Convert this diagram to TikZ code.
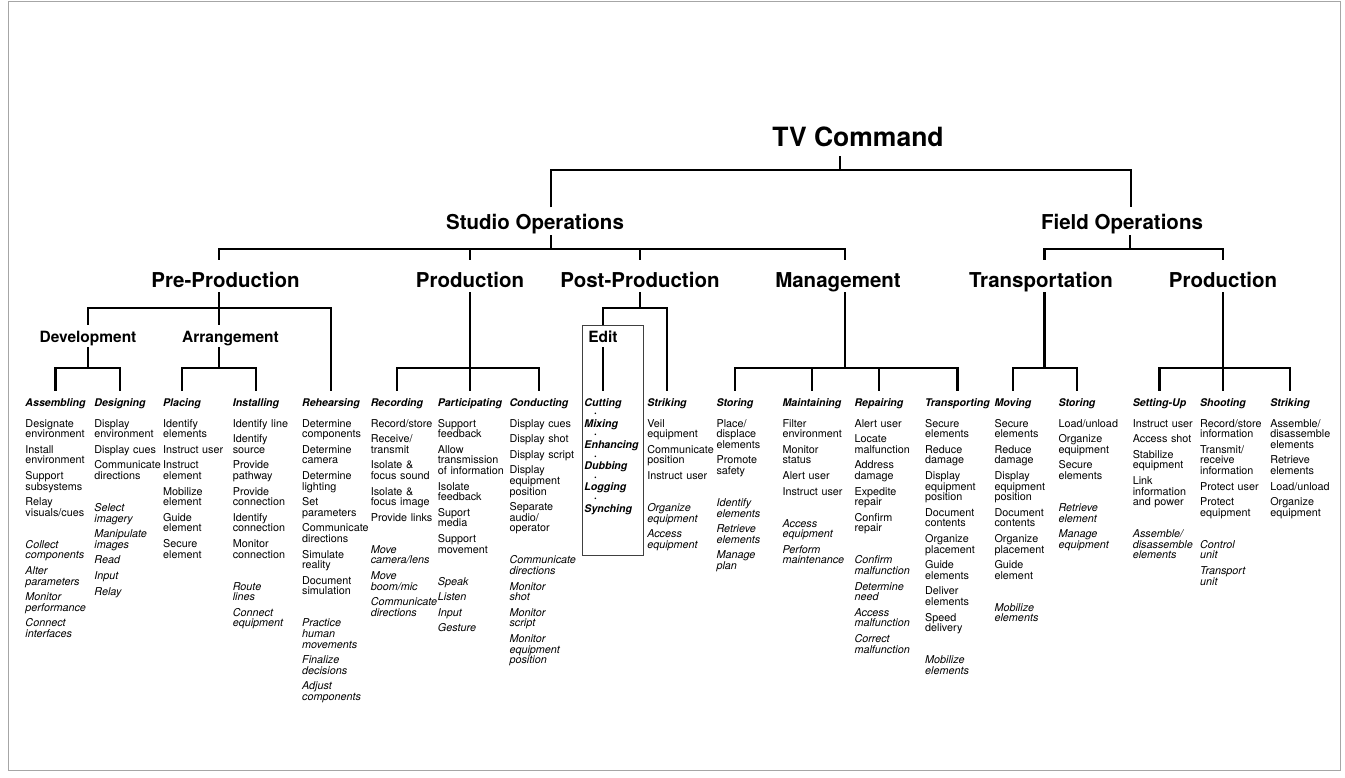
\documentclass[tikz,border=0pt]{standalone}
\usepackage{fontspec}
\setmainfont{TeX Gyre Heros}
\newcommand\editdot{\hspace*{9.5pt}\textperiodcentered}
\tikzset{
  rootbox/.style={font=\bfseries\fontsize{26.5}{30}\selectfont,
    inner sep=0pt, anchor=base, text height=19pt, text depth=10pt},
  opsbox/.style={font=\bfseries\fontsize{20.5}{24}\selectfont,
    inner sep=0pt, anchor=base, text height=21.5pt, text depth=6pt},
  phasebox/.style={font=\bfseries\fontsize{20.5}{24}\selectfont,
    inner sep=0pt, anchor=base, text height=27pt, text depth=5pt},
  groupbox/.style={font=\bfseries\fontsize{15.5}{18}\selectfont,
    inner sep=0pt, anchor=base, text height=17pt, text depth=5pt},
  taskhead/.style={font=\bfseries\itshape\fontsize{10.6}{12}\selectfont,
    inner sep=0pt, anchor=base, text height=15pt, text depth=3pt},
  tasklist/.style={font=\fontsize{10.8}{10.6}\selectfont,
    inner sep=0pt, anchor=base west, align=left, text width=90pt},
  editlist/.style={tasklist, font=\bfseries\itshape\fontsize{10.6}{10.6}\selectfont},
  branch/.style={line width=2.2pt},
  editframe/.style={draw=black!75, line width=1pt, inner sep=0pt},
  pageframe/.style={draw=black!35, line width=1pt},
}

\begin{document}
\begin{tikzpicture}[x=1pt, y=-1pt]
    \useasboundingbox (0,0) rectangle (1345,777);
    \draw[pageframe] (8,1) rectangle (1340,770);

    % top levels
    \node[rootbox] (tv) at (858,146) {TV Command};
    \node[opsbox] (studio) at (535,229) {Studio Operations};
    \node[opsbox] (field) at (1122,229) {Field Operations};
    \node[phasebox] (pre) at (225.5,287) {Pre-Production};
    \node[phasebox] (prod) at (470,287) {Production};
    \node[phasebox] (post) at (640,287) {Post-Production};
    \node[phasebox] (mgmt) at (838,287) {Management};
    \node[phasebox] (transp) at (1041,287) {Transportation};
    \node[phasebox] (fprod) at (1223,287) {Production};
    \node[groupbox] (dev) at (88,342) {Development};
    \node[groupbox] (arr) at (230.5,342) {Arrangement};
    \node[editframe, anchor=north west, minimum width=61pt, minimum height=230pt] (editbox) at (582,325) {};
    \node[groupbox] (edit) at (603,342) {Edit};

    % task heads
    \node[taskhead] (assembling) at (55.5,406) {Assembling};
    \node[taskhead] (designing) at (120,406) {Designing};
    \node[taskhead] (placing) at (182,406) {Placing};
    \node[taskhead] (installing) at (256,406) {Installing};
    \node[taskhead] (rehearsing) at (331,406) {Rehearsing};
    \node[taskhead] (recording) at (397,406) {Recording};
    \node[taskhead] (participating) at (470,406) {Participating};
    \node[taskhead] (conducting) at (539,406) {Conducting};
    \node[taskhead] (cutting) at (603,406) {Cutting};
    \node[taskhead] (pstriking) at (667,406) {Striking};
    \node[taskhead] (mstoring) at (735,406) {Storing};
    \node[taskhead] (maintaining) at (812,406) {Maintaining};
    \node[taskhead] (repairing) at (879,406) {Repairing};
    \node[taskhead] (transporting) at (957.5,406) {Transporting};
    \node[taskhead] (moving) at (1013,406) {Moving};
    \node[taskhead] (tstoring) at (1077,406) {Storing};
    \node[taskhead] (settingup) at (1159.5,406) {Setting-Up};
    \node[taskhead] (shooting) at (1223,406) {Shooting};
    \node[taskhead] (fstriking) at (1290,406) {Striking};

    % tree
    \coordinate (tvbar) at (840,170);
    \draw[branch] (tv.south -| tvbar) -- (tvbar);
    \draw[branch] ([xshift=16pt]studio.north) |- (tvbar) -| ([xshift=9pt]field.north);

    \coordinate (studiobar) at (551,249);
    \draw[branch] ([xshift=16pt]studio.south) -- (studiobar);
    \draw[branch] ([xshift=-6.5pt]pre.north) |- (studiobar) -| ([xshift=7pt]mgmt.north);
    \draw[branch] (prod.north) -- (prod.north |- studiobar);
    \draw[branch] (post.north) -- (post.north |- studiobar);

    \coordinate (fieldbar) at (1130,249);
    \draw[branch] ([xshift=8pt]field.south) -- (fieldbar);
    \draw[branch] ([xshift=3.5pt]transp.north) |- (fieldbar) -| (fprod.north);

    \coordinate (prebar) at (219,308);
    \draw[branch] ([xshift=-6.5pt]pre.south) -- ([xshift=-11.5pt]arr.north);
    \draw[branch] (dev.north) |- (prebar) -| (rehearsing.north);

    \coordinate (devbar) at (88,368);
    \draw[branch] (dev.south) -- (devbar);
    \draw[branch] (assembling.north) |- (devbar) -| (designing.north);

    \coordinate (arrbar) at (219,368);
    \draw[branch] ([xshift=-11.5pt]arr.south) -- (arrbar);
    \draw[branch] (placing.north) |- (arrbar) -| (installing.north);

    \coordinate (prodbar) at (470,368);
    \draw[branch] (prod.south) -- (participating.north);
    \draw[branch] (recording.north) |- (prodbar) -| (conducting.north);

    \coordinate (postbar) at (640,308);
    \draw[branch] (post.south) -- (postbar);
    \draw[branch] (editbox.north -| edit) |- (postbar) -| (pstriking.north);
    \draw[branch] (edit.south) -- (cutting.north);

    \coordinate (mgmtbar) at (845,368);
    \draw[branch] ([xshift=7pt]mgmt.south) -- (mgmtbar);
    \draw[branch] (mstoring.north) |- (mgmtbar) -| (transporting.north);
    \draw[branch] (maintaining.north) -- (maintaining.north |- mgmtbar);
    \draw[branch] (repairing.north) -- (repairing.north |- mgmtbar);

    \coordinate (transpbar) at (1044.5,368);
    \draw[branch] ([xshift=3.5pt]transp.south) -- (transpbar);
    \draw[branch] (moving.north) |- (transpbar) -| (tstoring.north);

    \coordinate (fprodbar) at (1223,368);
    \draw[branch] (fprod.south) -- (shooting.north);
    \draw[branch] (settingup.north) |- (fprodbar) -| (fstriking.north);

    % task lists
    \node[tasklist] (assembling-list) at ([yshift=-21pt]assembling.base west)
      {Designate\\environment\\[5pt]Install\\environment\\[5pt]Support\\subsystems\\[5pt]Relay\\visuals/cues\\[21.5pt]
       \itshape Collect\\components\\[5pt]Alter\\parameters\\[5pt]Monitor\\performance\\[5pt]Connect\\interfaces};
    \node[tasklist] (designing-list) at ([yshift=-21pt]designing.base west)
      {Display\\environment\\[5pt]Display cues\\[5pt]Communicate\\directions\\[21.5pt]
       \itshape Select\\imagery\\[5pt]Manipulate\\images\\[5pt]Read\\[5pt]Input\\[5pt]Relay};
    \node[tasklist] (placing-list) at ([yshift=-21pt]placing.base west)
      {Identify\\elements\\[5pt]Instruct user\\[5pt]Instruct\\element\\[5pt]Mobilize\\element\\[5pt]Guide\\element\\[5pt]Secure\\element};
    \node[tasklist] (installing-list) at ([yshift=-21pt]installing.base west)
      {Identify line\\[5pt]Identify\\source\\[5pt]Provide\\pathway\\[5pt]Provide\\connection\\[5pt]Identify\\connection\\[5pt]Monitor\\connection\\[21.5pt]
       \itshape Route\\lines\\[5pt]Connect\\equipment};
    \node[tasklist] (rehearsing-list) at ([yshift=-21pt]rehearsing.base west)
      {Determine\\components\\[5pt]Determine\\camera\\[5pt]Determine\\lighting\\[5pt]Set\\parameters\\[5pt]Communicate\\directions\\[5pt]Simulate\\reality\\[5pt]Document\\simulation\\[21.5pt]
       \itshape Practice\\human\\movements\\[5pt]Finalize\\decisions\\[5pt]Adjust\\components};
    \node[tasklist] (recording-list) at ([yshift=-21pt]recording.base west)
      {Record/store\\[5pt]Receive/\\transmit\\[5pt]Isolate \&\\focus sound\\[5pt]Isolate \&\\focus image\\[5pt]Provide links\\[21.5pt]
       \itshape Move\\camera/lens\\[5pt]Move\\boom/mic\\[5pt]Communicate\\directions};
    \node[tasklist] (participating-list) at ([yshift=-21pt]participating.base west)
      {Support\\feedback\\[5pt]Allow\\transmission\\of information\\[5pt]Isolate\\feedback\\[5pt]Suport\\media\\[5pt]Support\\movement\\[21.5pt]
       \itshape Speak\\[5pt]Listen\\[5pt]Input\\[5pt]Gesture};
    \node[tasklist] (conducting-list) at ([yshift=-21pt]conducting.base west)
      {Display cues\\[5pt]Display shot\\[5pt]Display script\\[5pt]Display\\equipment\\position\\[5pt]Separate\\audio/\\operator\\[21.5pt]
       \itshape Communicate\\directions\\[5pt]Monitor\\shot\\[5pt]Monitor\\script\\[5pt]Monitor\\equipment\\position};
    \node[editlist] (cutting-list) at ([yshift=-10.6pt]cutting.base west)
      {\editdot\\Mixing\\\editdot\\Enhancing\\\editdot\\Dubbing\\\editdot\\Logging\\\editdot\\Synching};
    \node[tasklist] (pstriking-list) at ([yshift=-21pt]pstriking.base west)
      {Veil\\equipment\\[5pt]Communicate\\position\\[5pt]Instruct user\\[21.5pt]
       \itshape Organize\\equipment\\[5pt]Access\\equipment};
    \node[tasklist] (mstoring-list) at ([yshift=-21pt]mstoring.base west)
      {Place/\\displace\\elements\\[5pt]Promote\\safety\\[21.5pt]
       \itshape Identify\\elements\\[5pt]Retrieve\\elements\\[5pt]Manage\\plan};
    \node[tasklist] (maintaining-list) at ([yshift=-21pt]maintaining.base west)
      {Filter\\environment\\[5pt]Monitor\\status\\[5pt]Alert user\\[5pt]Instruct user\\[21.5pt]
       \itshape Access\\equipment\\[5pt]Perform\\maintenance};
    \node[tasklist] (repairing-list) at ([yshift=-21pt]repairing.base west)
      {Alert user\\[5pt]Locate\\malfunction\\[5pt]Address\\damage\\[5pt]Expedite\\repair\\[5pt]Confirm\\repair\\[21.5pt]
       \itshape Confirm\\malfunction\\[5pt]Determine\\need\\[5pt]Access\\malfunction\\[5pt]Correct\\malfunction};
    \node[tasklist] (transporting-list) at ([yshift=-21pt]transporting.base west)
      {Secure\\elements\\[5pt]Reduce\\damage\\[5pt]Display\\equipment\\position\\[5pt]Document\\contents\\[5pt]Organize\\placement\\[5pt]Guide\\elements\\[5pt]Deliver\\elements\\[5pt]Speed\\delivery\\[21.5pt]
       \itshape Mobilize\\elements};
    \node[tasklist] (moving-list) at ([yshift=-21pt]moving.base west)
      {Secure\\elements\\[5pt]Reduce\\damage\\[5pt]Display\\equipment\\position\\[5pt]Document\\contents\\[5pt]Organize\\placement\\[5pt]Guide\\element\\[21.5pt]
       \itshape Mobilize\\elements};
    \node[tasklist] (tstoring-list) at ([yshift=-21pt]tstoring.base west)
      {Load/unload\\[5pt]Organize\\equipment\\[5pt]Secure\\elements\\[21.5pt]
       \itshape Retrieve\\element\\[5pt]Manage\\equipment};
    \node[tasklist] (settingup-list) at ([yshift=-21pt]settingup.base west)
      {Instruct user\\[5pt]Access shot\\[5pt]Stabilize\\equipment\\[5pt]Link\\information\\and power\\[21.5pt]
       \itshape Assemble/\\disassemble\\elements};
    \node[tasklist] (shooting-list) at ([yshift=-21pt]shooting.base west)
      {Record/store\\information\\[5pt]Transmit/\\receive\\information\\[5pt]Protect user\\[5pt]Protect\\equipment\\[21.5pt]
       \itshape Control\\unit\\[5pt]Transport\\unit};
    \node[tasklist] (fstriking-list) at ([yshift=-21pt]fstriking.base west)
      {Assemble/\\disassemble\\elements\\[5pt]Retrieve\\elements\\[5pt]Load/unload\\[5pt]Organize\\equipment};
\end{tikzpicture}
\end{document}
